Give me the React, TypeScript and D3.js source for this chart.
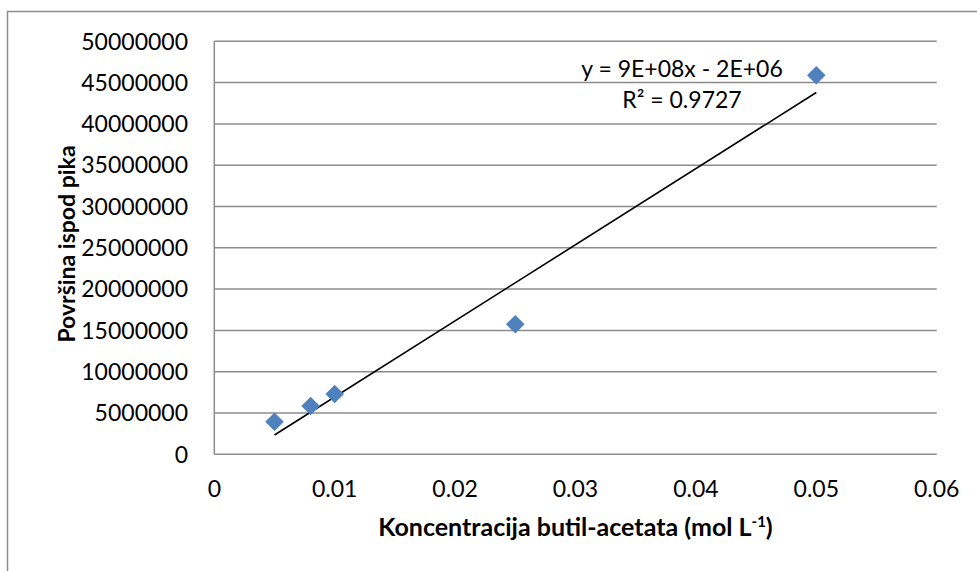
import React from "react";
import * as d3 from "d3";

const concentrations = [0.005, 0.008, 0.01, 0.025, 0.05];
const peakAreas = [3950000, 5850000, 7300000, 15750000, 45900000];
const trendX = [0.005, 0.05];
const trendY = [2340000, 43800000];
const xTicks = [0, 0.01, 0.02, 0.03, 0.04, 0.05, 0.06];
const yTicks = [0, 5000000, 10000000, 15000000, 20000000, 25000000, 30000000, 35000000, 40000000, 45000000, 50000000];
const equationText = "y = 9E+08x - 2E+06";
const r2Text = "0.9727";
const xTitle = "Koncentracija butil-acetata (mol L";
const yTitle = "Površina ispod pika";

const W = 977;
const H = 571;
const FONT = "Lato, 'Open Sans', sans-serif";

export default function App() {
  const left = 214.3, right = 936.7, top = 41.3, bottom = 454.3;
  const x = d3.scaleLinear().domain([0, 0.06]).range([left, right]);
  const y = d3.scaleLinear().domain([0, 50000000]).range([bottom, top]);
  const diamond = d3.symbol().type(d3.symbolDiamond2).size(220)();
  const line = d3
    .line<number>()
    .x((_, i) => x(trendX[i]))
    .y((d) => y(d));
  const cx = 682;
  return (
    <svg
      width={W}
      height={H}
      style={{ position: "absolute", left: 0, top: 0 }}
      fontFamily={FONT}
    >
      <rect x={0} y={0} width={W} height={H} fill="#fff" />
      <rect x={7.5} y={11.5} width={W + 20} height={H + 20} fill="none" stroke="#8c8c8c" strokeWidth={1.5} />
      {yTicks.map((t) => (
        <g key={"y" + t}>
          <line x1={left} x2={right} y1={y(t)} y2={y(t)} stroke="#8c8c8c" strokeWidth={1.5} />
          <text x={188} y={y(t)} dy="0.36em" textAnchor="end" fontSize={23} fill="#000">
            {String(t)}
          </text>
        </g>
      ))}
      <line x1={left} x2={left} y1={top} y2={bottom} stroke="#8c8c8c" strokeWidth={1.5} />
      {xTicks.map((t) => (
        <text key={"x" + t} x={x(t)} y={497} textAnchor="middle" fontSize={23} fill="#000">
          {String(t)}
        </text>
      ))}
      <path d={line(trendY) || ""} fill="none" stroke="#000" strokeWidth={1.6} />
      {concentrations.map((c, i) => (
        <path
          key={"p" + i}
          d={diamond || ""}
          transform={`translate(${x(c)},${y(peakAreas[i])})`}
          fill="#4F81BD"
        />
      ))}
      <text x={cx} y={77} textAnchor="middle" fontSize={23} fill="#000">
        {equationText}
      </text>
      <text x={cx} y={108} textAnchor="middle" fontSize={23} fill="#000">
        R² = {r2Text}
      </text>
      <text x={(left + right) / 2} y={536} textAnchor="middle" fontSize={25} fontWeight="bold" fill="#000">
        {xTitle}
        <tspan dy={-9} fontSize={15}>-1</tspan>
        <tspan dy={9}>)</tspan>
      </text>
      <text
        transform={`translate(75,244) rotate(-90)`}
        textAnchor="middle"
        fontSize={23}
        fontWeight="bold"
        fill="#000"
      >
        {yTitle}
      </text>
    </svg>
  );
}
